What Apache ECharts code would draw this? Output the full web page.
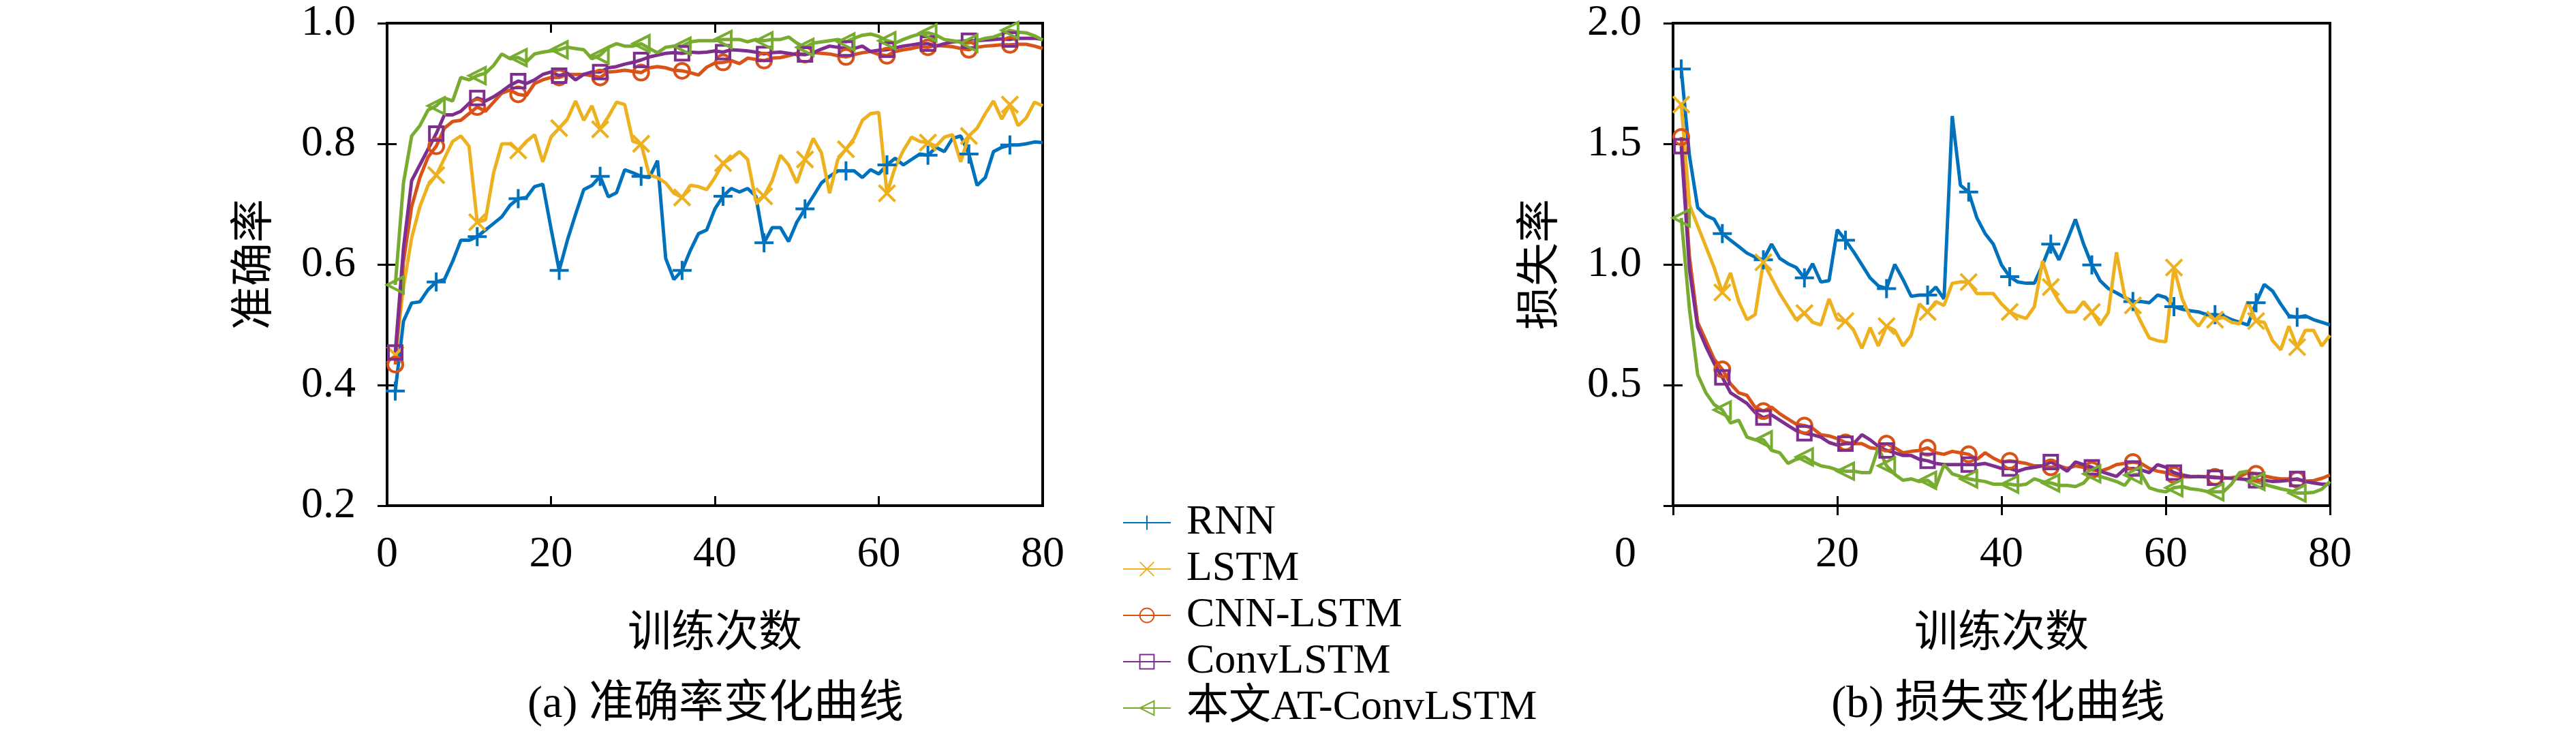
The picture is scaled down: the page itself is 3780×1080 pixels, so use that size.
<!DOCTYPE html>
<html>
<head>
<meta charset="utf-8">
<script src="https://cdn.jsdelivr.net/npm/echarts@6/dist/echarts.min.js"></script>
<style>
  html, body { margin: 0; padding: 0; background: #fff; }
  #main { width: 3780px; height: 1080px; }
</style>
</head>
<body>
<div id="main"></div>
<script>
// 训练轮次 1..80
var epochs = [];
for (var k = 1; k <= 80; k++) epochs.push(k);

var names = ['RNN', 'LSTM', 'CNN-LSTM', 'ConvLSTM', '本文AT-ConvLSTM'];
var xTicks = [0, 20, 40, 60, 80];
var accTicks = [0.2, 0.4, 0.6, 0.8, 1.0];
var lossTicks = [0, 0.5, 1.0, 1.5, 2.0];

// (a) 准确率
var accRNN = [0.39,0.506,0.536,0.538,0.558,0.571,0.575,0.605,0.640,0.640,
  0.646,0.657,0.668,0.679,0.698,0.709,0.711,0.729,0.733,0.66,
  0.590,0.64,0.683,0.724,0.731,0.746,0.712,0.719,0.757,0.752,
  0.746,0.744,0.772,0.610,0.575,0.590,0.623,0.651,0.657,0.692,
  0.713,0.726,0.720,0.726,0.713,0.636,0.661,0.661,0.638,0.670,
  0.692,0.713,0.735,0.746,0.755,0.755,0.755,0.744,0.757,0.750,
  0.765,0.776,0.765,0.774,0.783,0.781,0.794,0.787,0.809,0.813,
  0.783,0.731,0.744,0.787,0.794,0.798,0.798,0.800,0.803,0.802];
var accLSTM = [0.45,0.562,0.644,0.696,0.731,0.748,0.776,0.804,0.813,0.796,
  0.670,0.674,0.752,0.800,0.800,0.789,0.804,0.815,0.770,0.811,
  0.826,0.841,0.871,0.839,0.863,0.824,0.845,0.869,0.865,0.804,
  0.800,0.748,0.744,0.735,0.718,0.711,0.731,0.729,0.724,0.744,
  0.768,0.776,0.787,0.774,0.705,0.713,0.739,0.781,0.765,0.735,
  0.774,0.809,0.785,0.718,0.774,0.791,0.809,0.839,0.850,0.852,
  0.718,0.761,0.789,0.811,0.804,0.802,0.796,0.811,0.815,0.770,
  0.813,0.826,0.850,0.871,0.841,0.865,0.830,0.843,0.869,0.863];
var accCNN = [0.434,0.605,0.696,0.744,0.778,0.796,0.826,0.837,0.839,0.850,
  0.861,0.854,0.869,0.884,0.889,0.882,0.880,0.900,0.906,0.910,
  0.910,0.915,0.915,0.915,0.913,0.910,0.919,0.920,0.922,0.920,
  0.918,0.926,0.928,0.926,0.922,0.921,0.918,0.914,0.927,0.934,
  0.935,0.938,0.933,0.942,0.940,0.938,0.942,0.943,0.946,0.950,
  0.948,0.951,0.950,0.949,0.946,0.944,0.948,0.951,0.953,0.948,
  0.946,0.953,0.956,0.958,0.961,0.960,0.963,0.962,0.961,0.958,
  0.956,0.960,0.962,0.963,0.964,0.964,0.965,0.965,0.962,0.958];
var accConv = [0.454,0.627,0.739,0.765,0.791,0.817,0.848,0.848,0.854,0.867,
  0.876,0.871,0.878,0.887,0.897,0.904,0.900,0.906,0.915,0.919,
  0.913,0.917,0.906,0.915,0.919,0.919,0.926,0.928,0.932,0.935,
  0.939,0.944,0.947,0.950,0.951,0.950,0.952,0.951,0.952,0.954,
  0.952,0.956,0.955,0.954,0.952,0.949,0.951,0.952,0.950,0.948,
  0.948,0.951,0.957,0.962,0.960,0.958,0.958,0.962,0.953,0.955,
  0.956,0.959,0.962,0.964,0.966,0.966,0.962,0.966,0.969,0.970,
  0.971,0.971,0.972,0.973,0.974,0.973,0.975,0.975,0.975,0.973];
var accAT = [0.566,0.735,0.813,0.830,0.856,0.863,0.876,0.871,0.910,0.906,
  0.913,0.917,0.930,0.949,0.941,0.943,0.936,0.949,0.952,0.954,
  0.956,0.960,0.958,0.956,0.941,0.947,0.960,0.966,0.962,0.962,
  0.966,0.958,0.951,0.960,0.962,0.962,0.969,0.971,0.971,0.971,
  0.973,0.973,0.973,0.969,0.973,0.971,0.973,0.973,0.977,0.967,
  0.960,0.967,0.969,0.971,0.973,0.969,0.975,0.980,0.982,0.978,
  0.971,0.967,0.973,0.978,0.982,0.984,0.980,0.973,0.971,0.969,
  0.967,0.971,0.975,0.977,0.982,0.988,0.985,0.984,0.979,0.972];

// (b) 损失
var lossRNN = [1.81,1.45,1.236,1.203,1.187,1.128,1.10,1.074,1.047,1.030,
  1.019,1.084,1.025,1.003,0.987,0.944,1.003,0.927,0.933,1.144,
  1.10,1.052,0.998,0.944,0.911,0.90,1.0,0.938,0.868,0.873,
  0.873,0.906,0.857,1.615,1.328,1.30,1.193,1.128,1.084,0.998,
  0.949,0.927,0.922,0.922,0.998,1.084,1.019,1.10,1.187,1.084,
  0.998,0.933,0.90,0.882,0.863,0.846,0.846,0.841,0.873,0.863,
  0.825,0.814,0.808,0.803,0.792,0.792,0.787,0.771,0.760,0.749,
  0.841,0.917,0.890,0.836,0.787,0.781,0.787,0.771,0.760,0.749];
var lossLSTM = [1.663,1.247,1.16,1.074,0.987,0.884,0.965,0.846,0.771,0.792,
  1.009,0.944,0.879,0.825,0.771,0.798,0.760,0.749,0.857,0.771,
  0.765,0.727,0.652,0.738,0.662,0.744,0.727,0.662,0.706,0.836,
  0.803,0.846,0.830,0.922,0.927,0.927,0.879,0.879,0.879,0.836,
  0.803,0.787,0.776,0.825,1.014,0.906,0.846,0.803,0.803,0.846,
  0.803,0.749,0.80,1.05,0.868,0.830,0.760,0.695,0.684,0.679,
  0.987,0.857,0.781,0.744,0.792,0.771,0.781,0.760,0.754,0.846,
  0.765,0.760,0.684,0.646,0.744,0.657,0.727,0.727,0.662,0.706];
var lossCNN = [1.528,1.03,0.76,0.684,0.608,0.565,0.505,0.468,0.457,0.408,
  0.392,0.408,0.381,0.359,0.338,0.332,0.321,0.294,0.289,0.278,
  0.262,0.257,0.257,0.240,0.235,0.257,0.240,0.219,0.225,0.229,
  0.240,0.219,0.213,0.225,0.219,0.213,0.192,0.219,0.197,0.181,
  0.186,0.181,0.175,0.165,0.165,0.159,0.165,0.154,0.165,0.159,
  0.148,0.143,0.154,0.170,0.175,0.181,0.175,0.154,0.143,0.137,
  0.127,0.119,0.119,0.121,0.121,0.119,0.113,0.116,0.121,0.137,
  0.132,0.123,0.116,0.111,0.111,0.108,0.102,0.104,0.113,0.127];
var lossConv = [1.49,0.98,0.74,0.66,0.59,0.532,0.468,0.446,0.424,0.386,
  0.365,0.376,0.354,0.332,0.311,0.30,0.294,0.284,0.262,0.251,
  0.257,0.257,0.294,0.273,0.246,0.229,0.219,0.208,0.208,0.192,
  0.186,0.175,0.170,0.170,0.170,0.170,0.170,0.175,0.165,0.154,
  0.154,0.143,0.154,0.159,0.165,0.181,0.165,0.143,0.181,0.170,
  0.159,0.143,0.132,0.121,0.152,0.154,0.148,0.137,0.170,0.159,
  0.137,0.127,0.121,0.121,0.119,0.116,0.116,0.113,0.111,0.108,
  0.105,0.105,0.100,0.102,0.105,0.111,0.100,0.094,0.089,0.089];
var lossAT = [1.193,0.814,0.543,0.468,0.419,0.397,0.343,0.354,0.284,0.273,
  0.273,0.229,0.219,0.175,0.192,0.202,0.181,0.165,0.159,0.148,
  0.143,0.143,0.137,0.137,0.240,0.165,0.13,0.105,0.111,0.100,
  0.105,0.079,0.170,0.132,0.121,0.111,0.105,0.100,0.089,0.089,
  0.089,0.084,0.089,0.111,0.100,0.094,0.084,0.084,0.079,0.094,
  0.132,0.121,0.111,0.100,0.084,0.127,0.132,0.074,0.063,0.057,
  0.074,0.079,0.070,0.066,0.059,0.057,0.057,0.089,0.137,0.143,
  0.100,0.089,0.079,0.070,0.063,0.052,0.052,0.055,0.068,0.100];

var colors = ['#0072BD', '#EDB120', '#D95319', '#7E2F8E', '#77AC30'];
var marks = [
  'path://M0,10 L20,10 M10,0 L10,20',
  'path://M0,0 L20,20 M20,0 L0,20',
  'circle',
  'rect',
  'path://M0,10 L18,0 L18,20 Z'
];
var markSize = [28, 24, 22, 20, 24];

var serif = "'Liberation Serif', 'Noto Sans CJK SC', serif";
var cjk = "'Noto Sans CJK SC', 'Liberation Serif', sans-serif";

var myChart = echarts.init(document.getElementById('main'));

function makeSeries(idx, vals, g) {
    var data = vals.map(function (v, i) {
        // 每隔 5 个点画一个标记
        if (i % 5 === 0) return [epochs[i], v];
        return { value: [epochs[i], v], symbol: 'none' };
    });
    return {
        name: names[idx],
        type: 'line',
        xAxisIndex: g * 2,
        yAxisIndex: g * 2,
        data: data,
        color: colors[idx],
        symbol: marks[idx],
        symbolSize: markSize[idx],
        showSymbol: true,
        showAllSymbol: true,
        animation: false,
        lineStyle: { color: colors[idx], width: 5 },
        itemStyle: { color: 'rgba(0,0,0,0)', borderColor: colors[idx], borderWidth: 4 }
    };
}

var tick = { show: true, inside: true, length: 14, lineStyle: { color: '#000', width: 3 } };

function xAxes(g) {
    return [{
        type: 'value', gridIndex: g, min: 0, max: 80, interval: 20, position: 'bottom',
        axisLine: { show: false }, axisTick: tick, splitLine: { show: false },
        axisLabel: {
            margin: 40, color: '#000', fontSize: 64, fontFamily: serif,
            formatter: function (v) { return (g === 1 && v === 0) ? '{s|0}' : String(v); },
            rich: { s: { fontSize: 64, fontFamily: serif, color: '#000', padding: [0, 140, 0, 0] } }
        },
        name: '训练次数', nameLocation: 'middle', nameGap: 150,
        nameTextStyle: { color: '#000', fontSize: 64, fontFamily: cjk }
    }, {
        type: 'value', gridIndex: g, min: 0, max: 80, interval: 20, position: 'top',
        axisLine: { show: false }, axisTick: tick, axisLabel: { show: false }, splitLine: { show: false }
    }];
}

function yAxes(g, mn, mx, step, label) {
    return [{
        type: 'value', gridIndex: g, min: mn, max: mx, interval: step, position: 'left',
        axisLine: { show: false }, axisTick: tick, splitLine: { show: false },
        axisLabel: {
            margin: 46, color: '#000', fontSize: 64, fontFamily: serif,
            formatter: function (v) { return (g === 1 && v === 0) ? '' : v.toFixed(1); }
        },
        name: label, nameLocation: 'middle', nameGap: 168,
        nameTextStyle: { color: '#000', fontSize: 64, fontFamily: cjk }
    }, {
        type: 'value', gridIndex: g, min: mn, max: mx, interval: step, position: 'right',
        axisLine: { show: false }, axisTick: tick, axisLabel: { show: false }, splitLine: { show: false }
    }];
}

var accSets = [accRNN, accLSTM, accCNN, accConv, accAT];
var lossSets = [lossRNN, lossLSTM, lossCNN, lossConv, lossAT];
var series = [];
accSets.forEach(function (s, i) { series.push(makeSeries(i, s, 0)); });
lossSets.forEach(function (s, i) { series.push(makeSeries(i, s, 1)); });

var option = {
    backgroundColor: '#ffffff',
    animation: false,
    grid: [
        { left: 568, top: 34, width: 962, height: 708, show: true, borderColor: '#000', borderWidth: 4, backgroundColor: 'transparent' },
        { left: 2455, top: 34, width: 964, height: 708, show: true, borderColor: '#000', borderWidth: 4, backgroundColor: 'transparent' }
    ],
    xAxis: xAxes(0).concat(xAxes(1)),
    yAxis: yAxes(0, accTicks[0], accTicks[4], 0.2, '准确率').concat(yAxes(1, lossTicks[0], lossTicks[4], 0.5, '损失率')),
    legend: {
        data: names,
        orient: 'vertical',
        left: 1642,
        top: 730,
        itemWidth: 70,
        itemHeight: 26,
        itemGap: 4,
        textStyle: { color: '#000', fontSize: 62, fontFamily: serif, lineHeight: 64, padding: [0, 0, 0, 18] }
    },
    graphic: [
        { type: 'text', style: { x: 1050, y: 1035, text: '(a) 准确率变化曲线', fill: '#000', fontSize: 66, fontFamily: serif, align: 'center', verticalAlign: 'middle' } },
        { type: 'text', style: { x: 2932, y: 1035, text: '(b) 损失变化曲线', fill: '#000', fontSize: 66, fontFamily: serif, align: 'center', verticalAlign: 'middle' } }
    ],
    series: series
};
myChart.setOption(option);
</script>
</body>
</html>
